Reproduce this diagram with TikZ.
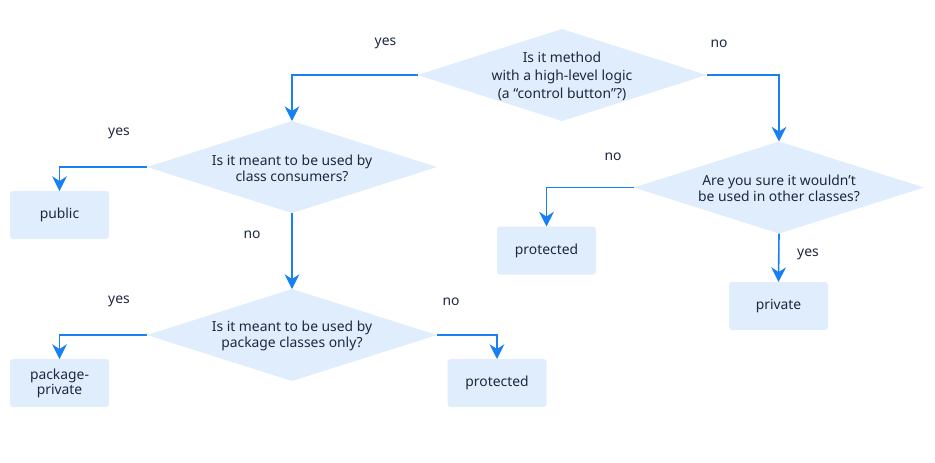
\documentclass[tikz,border=0pt]{standalone}
\usepackage{fontspec}
\setmainfont{Noto Sans}
\usetikzlibrary{shapes.geometric,arrows.meta}
\definecolor{fillblue}{RGB}{224,237,252}
\definecolor{arrblue}{RGB}{24,128,242}
\definecolor{txt}{RGB}{28,40,64}
\begin{document}
\begin{tikzpicture}[x=0.75pt,y=-0.75pt,
  dia/.style={diamond, fill=fillblue, draw=none, inner sep=0pt, outer sep=0pt,
    minimum width=217.5pt, minimum height=69pt},
  qtext/.style={text=txt, align=center, inner sep=0pt, font=\fontsize{10.4}{12}\selectfont},
  qtextbig/.style={qtext, font=\fontsize{10.4}{13.5}\selectfont},
  ans/.style={rectangle, rounded corners=2.25pt, fill=fillblue, draw=none, text=txt,
    minimum width=74.25pt, minimum height=36pt, inner sep=0pt, outer sep=0pt,
    align=center, font=\fontsize{10.4}{11.25}\selectfont},
  lbl/.style={text=txt, inner sep=0pt, font=\fontsize{10.4}{12}\selectfont},
  arr/.style={draw=arrblue, line width=1.2pt, -{Stealth[length=11pt,width=11pt,inset=3.5pt]}}
]
\useasboundingbox (0,0) rectangle (935,462);

% decisions
\node[dia, minimum width=216.75pt] (d1) at (562,75) {};
\node[qtextbig] (t1) at (562,76) {Is it method\\with a high-level logic\\(a “control button”?)};
\node[dia] (d2) at (292,167) {};
\node[qtext] (t2) at (292,168) {Is it meant to be used by\\class consumers?};
\node[dia] (d3) at (292,335) {};
\node[qtext] (t3) at (292,336) {Is it meant to be used by\\package classes only?};
\node[dia] (d4) at (779,187.5) {};
\node[qtext] (t4) at (779,188.5) {Are you sure it wouldn’t\\be used in other classes?};

% answers
\node[ans] (pub) at (59.5,215) {public};
\node[ans] (pp) at (59.5,383) {package-\\private};
\node[ans] (prot2) at (497,383) {protected};
\node[ans] (prot1) at (546.5,250.5) {protected};
\node[ans] (priv) at (778.5,306) {private};

% connectors
\draw[arr] (d1.west) -| (d2.north);
\draw[arr] (d1.east) -| (d4.north);
\draw[arr] (d2.west) -| (pub.north);
\draw[arr] (d2.south) -- (d3.north);
\draw[arr] (d3.west) -| (pp.north);
\draw[arr] (d3.east) -| (prot2.north);
\draw[arr] (d4.west) -| (prot1.north);
\draw[arr] (d4.south) -- (priv.north);

% labels
\node[lbl] (l1) at (385.5,43.5) {yes};
\node[lbl] (l2) at (719,43.5) {no};
\node[lbl] (l3) at (119,133) {yes};
\node[lbl] (l4) at (252,234.5) {no};
\node[lbl] (l5) at (119,301.5) {yes};
\node[lbl] (l6) at (451,301.5) {no};
\node[lbl] (l7) at (613,156.5) {no};
\node[lbl] (l8) at (808,254.5) {yes};
\end{tikzpicture}
\end{document}
